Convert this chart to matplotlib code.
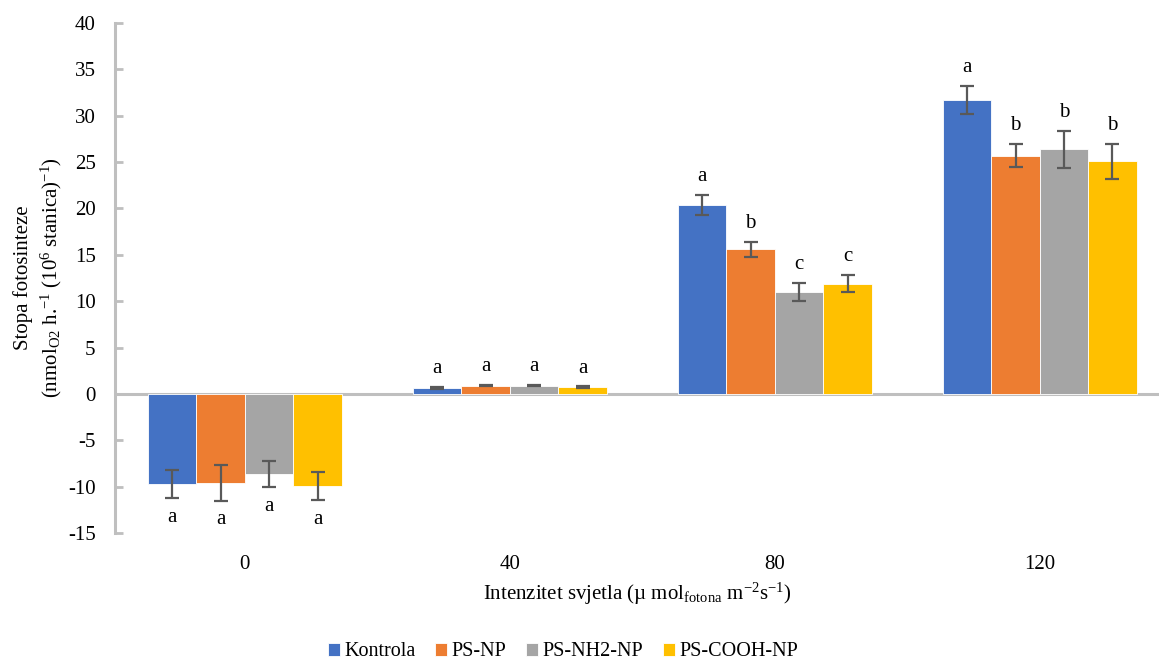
import numpy as np
import matplotlib
matplotlib.use('Agg')
import matplotlib.pyplot as plt

#fonts: Times-like serif for everything
plt.rcParams['font.family'] = ['Liberation Serif', 'DejaVu Serif']
plt.rcParams['mathtext.fontset'] = 'custom'
plt.rcParams['mathtext.rm'] = 'Liberation Serif'
plt.rcParams['mathtext.it'] = 'Liberation Serif:italic'
plt.rcParams['font.size'] = 15
plt.rcParams['axes.unicode_minus'] = False

#categories (light intensity)
categories = ['0', '40', '80', '120']
series_names = ['Kontrola', 'PS-NP', 'PS-NH2-NP', 'PS-COOH-NP']

#mean values for each series
kontrola = [-9.7, 0.65, 20.4, 31.7]
ps_np = [-9.6, 0.9, 15.6, 25.7]
ps_nh2_np = [-8.6, 0.9, 11.0, 26.4]
ps_cooh_np = [-9.9, 0.7, 11.9, 25.1]

#error bars
kontrola_err = [1.5, 0.1, 1.1, 1.5]
ps_np_err = [1.9, 0.1, 0.8, 1.25]
ps_nh2_np_err = [1.4, 0.1, 1.0, 2.0]
ps_cooh_np_err = [1.5, 0.1, 0.95, 1.9]

#significance letters
kontrola_lab = ['a', 'a', 'a', 'a']
ps_np_lab = ['a', 'a', 'b', 'b']
ps_nh2_np_lab = ['a', 'a', 'c', 'b']
ps_cooh_np_lab = ['a', 'a', 'c', 'b']

values = [kontrola, ps_np, ps_nh2_np, ps_cooh_np]
errors = [kontrola_err, ps_np_err, ps_nh2_np_err, ps_cooh_np_err]
letters = [kontrola_lab, ps_np_lab, ps_nh2_np_lab, ps_cooh_np_lab]
colors = ['#4472C4', '#ED7D31', '#A5A5A5', '#FFC000']

fig = plt.figure(figsize=(11.59, 6.60), dpi=100)
ax = fig.add_axes([115/1159, 1-533/660, 1-115/1159, (533-23)/660])

x = np.arange(len(categories))
width = 0.183

for i in range(4):
    pos = x + (i - 1.5) * width
    ax.bar(pos, values[i], width, color=colors[i], edgecolor='white',
           linewidth=0.6, label=series_names[i], zorder=2)
    ax.errorbar(pos, values[i], yerr=errors[i], fmt='none', ecolor='#595959',
                elinewidth=1.6, capsize=5, capthick=1.6, zorder=3)
    for j in range(len(categories)):
        v = values[i][j]
        e = errors[i][j]
        if v >= 0:
            ax.annotate(letters[i][j], (pos[j], v + e), xytext=(0, 13),
                        textcoords='offset points', ha='center', va='center')
        else:
            ax.annotate(letters[i][j], (pos[j], v - e), xytext=(0, -14),
                        textcoords='offset points', ha='center', va='center')

#zero line and axes styling
ax.axhline(0, color='#BFBFBF', linewidth=2.2, zorder=1)
ax.set_xlim(-0.49, 3.45)
ax.set_ylim(-15, 40)
ax.set_yticks(np.arange(-15, 41, 5))
ax.set_xticks(x)
ax.set_xticklabels(categories)
ax.tick_params(axis='x', length=0, pad=16)
ax.tick_params(axis='y', direction='in', length=6, width=2, color='#BFBFBF', pad=14)
for s in ['top', 'right', 'bottom']:
    ax.spines[s].set_visible(False)
ax.spines['left'].set_color('#BFBFBF')
ax.spines['left'].set_linewidth(2.2)

#add axis label descriptions
ax.set_ylabel('Stopa fotosinteze\n(nmol$_{\\rm O2}$ h.$^{-1}$ (10$^{6}$ stanica)$^{-1}$)',
              linespacing=1.3)
ax.yaxis.set_label_coords(-0.049, 0.5)
ax.set_xlabel('Intenzitet svjetla (\u00b5 mol$_{\\rm fotona}$ m$^{-2}$s$^{-1}$)', labelpad=5)

fig.legend(loc='center', bbox_to_anchor=(563/1159, 1-652/660), ncol=4, frameon=False,
           fontsize=14.5, handlelength=0.6, handleheight=0.6, handletextpad=0.2,
           columnspacing=1.0)

fig.savefig('out.png', dpi=100)
